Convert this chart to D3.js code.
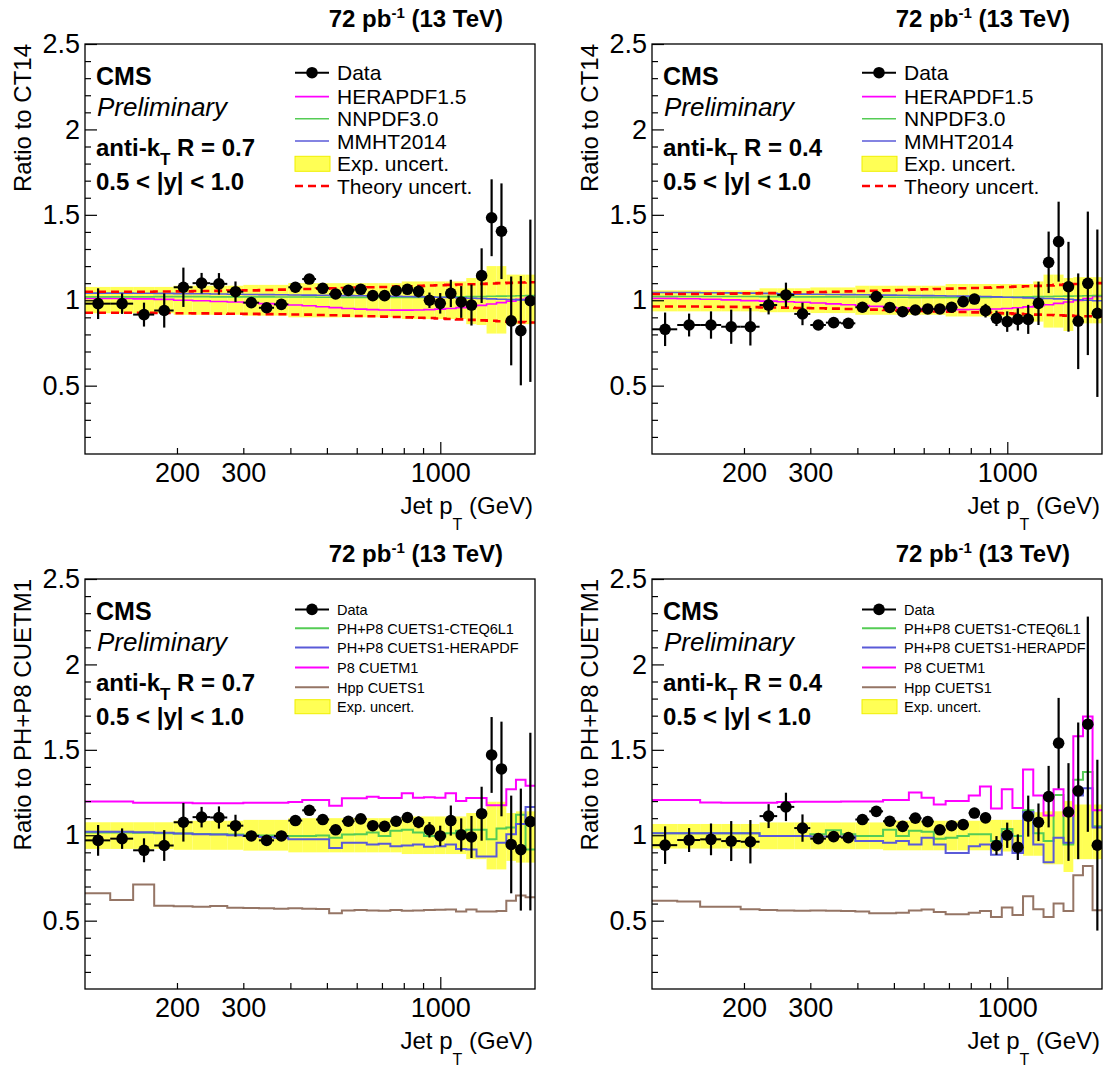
<!DOCTYPE html>
<html><head><meta charset="utf-8">
<script src="https://cdn.jsdelivr.net/npm/d3@7"></script>
<style>
body{margin:0;background:#fff}
svg{display:block}
text{font-family:"Liberation Sans",Arial,Helvetica,sans-serif;fill:#000}
</style>
</head><body>
<svg id="c" width="1109" height="1070"></svg>
<script>
// ---------------- DATA ----------------
const ptEdges = [114,133,153,174,196,220,245,272,300,330,362,395,430,468,507,548,592,638,686,737,790,846,905,967,1032,1101,1172,1248,1327,1410,1497,1588,1684,1784];
const yMajorTicks = [0.5,1,1.5,2,2.5];
const yMinorTicks = [0.2,0.3,0.4,0.6,0.7,0.8,0.9,1.1,1.2,1.3,1.4,1.6,1.7,1.8,1.9,2.1,2.2,2.3,2.4];
const xTicks = [200,300,400,500,600,700,800,900,1000];
const xTickLabels = [200,300,1000];
const yRange = [0.1,2.5];

// Panel 1: R=0.7, ratio to CT14
const r07ct14Data = [0.98,0.98,0.916,0.94,1.076,1.10,1.096,1.05,0.986,0.956,0.976,1.076,1.124,1.07,1.037,1.058,1.064,1.027,1.027,1.056,1.064,1.052,1.0,0.982,1.04,0.99,0.972,1.144,1.483,1.404,0.879,0.822,0.997];
const r07ct14Err  = [0.09,0.06,0.07,0.1,0.115,0.06,0.063,0.06,0.02,0.02,0.02,0.03,0.02,0.02,0.02,0.02,0.02,0.02,0.02,0.02,0.025,0.035,0.045,0.06,0.08,0.093,0.12,0.16,0.225,0.28,0.26,0.32,0.475];
const r07ct14BandHi = [1.078,1.078,1.078,1.078,1.085,1.085,1.085,1.085,1.09,1.09,1.09,1.1,1.1,1.1,1.1,1.1,1.1,1.1,1.1,1.1,1.11,1.11,1.11,1.11,1.11,1.11,1.13,1.158,1.2,1.2,1.15,1.15,1.15];
const r07ct14BandLo = [0.924,0.924,0.924,0.924,0.915,0.915,0.915,0.915,0.91,0.91,0.91,0.9,0.9,0.9,0.9,0.9,0.9,0.9,0.9,0.9,0.89,0.89,0.89,0.89,0.89,0.89,0.86,0.855,0.805,0.805,0.86,0.86,0.86];
const r07ct14TheoryHi = [1.05,1.05,1.05,1.051,1.052,1.054,1.055,1.057,1.058,1.06,1.062,1.064,1.066,1.068,1.07,1.072,1.074,1.076,1.078,1.08,1.082,1.084,1.086,1.088,1.09,1.092,1.094,1.096,1.098,1.1,1.102,1.104,1.105];
const r07ct14TheoryLo = [0.927,0.927,0.926,0.925,0.924,0.923,0.922,0.921,0.92,0.919,0.918,0.917,0.916,0.914,0.912,0.91,0.908,0.906,0.904,0.902,0.9,0.898,0.896,0.893,0.89,0.888,0.885,0.882,0.88,0.877,0.874,0.872,0.87];
const r07ct14Hera = [1.011,1.01,1.008,1.005,1.0,0.997,0.993,0.99,0.985,0.98,0.975,0.972,0.968,0.962,0.957,0.952,0.948,0.945,0.943,0.942,0.942,0.943,0.945,0.948,0.952,0.957,0.963,0.97,0.978,0.986,0.995,1.005,1.016];
const r07ct14Nnpdf = [1.02,1.02,1.02,1.021,1.021,1.021,1.02,1.02,1.02,1.02,1.019,1.019,1.019,1.018,1.018,1.017,1.017,1.017,1.017,1.017,1.017,1.017,1.018,1.018,1.019,1.02,1.021,1.022,1.023,1.024,1.025,1.026,1.027];
const r07ct14Mmht = [1.042,1.042,1.041,1.04,1.039,1.038,1.037,1.035,1.034,1.033,1.032,1.031,1.03,1.029,1.028,1.027,1.026,1.025,1.024,1.023,1.022,1.021,1.02,1.018,1.016,1.014,1.012,1.01,1.008,1.006,1.004,1.002,1.0];

// Panel 2: R=0.4, ratio to CT14
const r04ct14Data = [0.83,0.855,0.855,0.845,0.845,0.972,1.031,0.92,0.855,0.869,0.865,0.959,1.021,0.958,0.933,0.943,0.949,0.949,0.959,0.992,1.007,0.939,0.894,0.875,0.888,0.888,0.982,1.222,1.343,1.079,0.877,1.099,0.924];
const r04ct14Err  = [0.098,0.067,0.08,0.1,0.11,0.055,0.072,0.066,0.02,0.02,0.02,0.03,0.03,0.02,0.02,0.02,0.02,0.02,0.02,0.02,0.03,0.04,0.045,0.06,0.065,0.085,0.127,0.18,0.234,0.263,0.28,0.42,0.49];
const r04ct14BandHi = [1.058,1.058,1.058,1.058,1.058,1.07,1.07,1.07,1.075,1.075,1.075,1.085,1.085,1.085,1.085,1.085,1.085,1.085,1.095,1.095,1.095,1.095,1.095,1.095,1.095,1.095,1.11,1.15,1.15,1.13,1.135,1.135,1.135];
const r04ct14BandLo = [0.935,0.935,0.935,0.935,0.935,0.93,0.93,0.93,0.925,0.925,0.925,0.915,0.915,0.915,0.915,0.915,0.915,0.915,0.905,0.905,0.905,0.905,0.905,0.905,0.905,0.905,0.875,0.84,0.84,0.82,0.865,0.865,0.865];
const r04ct14TheoryHi = [1.037,1.037,1.038,1.039,1.04,1.042,1.044,1.046,1.048,1.05,1.052,1.054,1.056,1.058,1.06,1.062,1.064,1.066,1.068,1.07,1.072,1.074,1.076,1.078,1.08,1.082,1.084,1.087,1.09,1.093,1.095,1.098,1.1];
const r04ct14TheoryLo = [0.963,0.963,0.962,0.961,0.96,0.958,0.957,0.955,0.953,0.951,0.949,0.947,0.945,0.943,0.941,0.939,0.937,0.935,0.933,0.931,0.929,0.927,0.925,0.923,0.92,0.918,0.916,0.914,0.912,0.91,0.908,0.906,0.904];
const r04ct14Hera = [1.011,1.009,1.006,1.002,0.998,0.995,0.991,0.988,0.984,0.979,0.974,0.969,0.964,0.959,0.955,0.951,0.948,0.946,0.945,0.945,0.946,0.947,0.949,0.952,0.956,0.961,0.967,0.974,0.982,0.99,0.999,1.01,1.022];
const r04ct14Nnpdf = [1.022,1.022,1.022,1.022,1.022,1.021,1.021,1.02,1.02,1.02,1.019,1.019,1.019,1.018,1.018,1.017,1.017,1.017,1.017,1.017,1.017,1.017,1.018,1.018,1.019,1.02,1.021,1.022,1.023,1.024,1.025,1.026,1.027];
const r04ct14Mmht = [1.045,1.045,1.044,1.043,1.042,1.04,1.038,1.036,1.035,1.034,1.033,1.032,1.031,1.03,1.029,1.028,1.027,1.026,1.025,1.024,1.023,1.022,1.02,1.018,1.016,1.014,1.012,1.01,1.008,1.006,1.003,1.0,0.997];

// Panel 3: R=0.7, ratio to PH+P8 CUETM1
const r07mcData = [0.97,0.98,0.912,0.94,1.076,1.106,1.104,1.056,0.996,0.97,0.996,1.086,1.146,1.092,1.032,1.082,1.096,1.056,1.052,1.082,1.104,1.076,1.032,0.996,1.086,1.002,0.99,1.126,1.47,1.388,0.946,0.916,1.08];
const r07mcErr  = [0.09,0.06,0.07,0.09,0.113,0.06,0.065,0.064,0.02,0.02,0.02,0.025,0.02,0.02,0.02,0.02,0.02,0.02,0.02,0.02,0.025,0.035,0.045,0.06,0.088,0.097,0.123,0.158,0.222,0.277,0.286,0.357,0.52];
const r07mcBandHi = [1.076,1.076,1.076,1.076,1.085,1.085,1.085,1.085,1.09,1.09,1.09,1.1,1.1,1.1,1.1,1.1,1.1,1.1,1.1,1.1,1.11,1.11,1.11,1.11,1.11,1.11,1.13,1.13,1.196,1.196,1.13,1.14,1.14];
const r07mcBandLo = [0.92,0.92,0.92,0.92,0.915,0.915,0.915,0.915,0.91,0.91,0.91,0.9,0.9,0.9,0.9,0.9,0.9,0.9,0.9,0.9,0.89,0.89,0.89,0.89,0.89,0.89,0.86,0.86,0.8,0.8,0.85,0.84,0.84];
const r07mcP8 = [1.198,1.198,1.19,1.19,1.19,1.188,1.188,1.188,1.19,1.19,1.19,1.195,1.206,1.206,1.172,1.216,1.216,1.226,1.218,1.218,1.246,1.22,1.222,1.22,1.246,1.2,1.218,1.218,1.175,1.175,1.27,1.325,1.29];
const r07mcCteq = [1.016,1.016,1.014,1.012,1.01,1.008,1.006,1.004,1.0,0.998,0.996,0.996,0.996,0.998,0.986,1.004,1.006,1.016,0.996,1.026,1.032,1.016,0.996,0.992,1.012,1.026,1.032,1.032,0.976,1.04,1.046,1.12,0.916];
const r07mcHera = [1.02,1.02,1.018,1.014,1.01,1.006,1.004,1.0,0.996,0.99,0.986,0.976,0.976,0.976,0.926,0.956,0.956,0.946,0.95,0.936,0.94,0.946,0.932,0.936,0.946,0.92,0.916,0.876,0.876,0.956,1.006,1.066,1.166];
const r07mcHpp = [0.661,0.621,0.711,0.588,0.584,0.582,0.586,0.576,0.574,0.572,0.57,0.572,0.57,0.568,0.543,0.56,0.562,0.56,0.558,0.562,0.558,0.56,0.562,0.564,0.566,0.554,0.566,0.554,0.554,0.556,0.617,0.647,0.637];

// Panel 4: R=0.4, ratio to PH+P8 CUETM1
const r04mcData = [0.942,0.972,0.976,0.966,0.962,1.112,1.166,1.042,0.98,0.992,0.986,1.092,1.14,1.082,1.052,1.1,1.08,1.032,1.056,1.062,1.13,1.102,0.94,1.0,0.93,1.112,1.076,1.226,1.539,1.136,1.26,1.65,0.942];
const r04mcErr  = [0.11,0.07,0.093,0.117,0.127,0.07,0.083,0.08,0.02,0.02,0.02,0.03,0.03,0.02,0.02,0.02,0.02,0.02,0.02,0.02,0.03,0.03,0.055,0.074,0.075,0.12,0.11,0.18,0.265,0.286,0.4,0.63,0.5];
const r04mcBandHi = [1.066,1.066,1.066,1.066,1.066,1.075,1.075,1.075,1.075,1.075,1.075,1.075,1.075,1.085,1.085,1.085,1.085,1.085,1.085,1.085,1.085,1.085,1.09,1.09,1.09,1.135,1.135,1.14,1.14,1.2,1.18,1.18,1.18];
const r04mcBandLo = [0.922,0.922,0.922,0.922,0.922,0.918,0.918,0.918,0.918,0.918,0.918,0.918,0.918,0.912,0.912,0.912,0.912,0.912,0.912,0.912,0.912,0.912,0.905,0.905,0.905,0.88,0.88,0.83,0.83,0.785,0.86,0.86,0.86];
const r04mcP8 = [1.206,1.206,1.192,1.19,1.19,1.19,1.195,1.196,1.196,1.196,1.198,1.198,1.198,1.206,1.206,1.25,1.22,1.18,1.2,1.2,1.232,1.285,1.156,1.27,1.16,1.385,1.232,1.116,1.27,1.116,1.58,1.695,1.146];
const r04mcCteq = [1.012,1.012,1.012,1.012,1.012,0.996,0.996,0.996,1.006,1.03,1.006,0.996,0.996,1.032,0.996,1.026,1.02,0.98,0.986,0.996,1.006,1.006,0.966,1.036,0.996,1.146,1.012,0.966,1.236,0.946,1.325,1.37,1.052];
const r04mcHera = [1.012,1.012,1.012,1.012,1.012,0.996,0.996,0.996,0.992,0.992,0.992,0.966,0.966,0.956,0.966,0.946,0.986,0.946,0.896,0.896,0.936,0.946,0.886,1.006,0.896,1.136,0.946,0.842,0.986,0.956,1.232,1.275,1.046];
const r04mcHpp = [0.617,0.612,0.581,0.581,0.567,0.563,0.56,0.558,0.56,0.558,0.556,0.553,0.543,0.543,0.547,0.56,0.565,0.551,0.537,0.537,0.547,0.557,0.521,0.577,0.533,0.643,0.567,0.521,0.6,0.557,0.766,0.82,0.561];

const ct14LegendLabels = ["Data","HERAPDF1.5","NNPDF3.0","MMHT2014","Exp. uncert.","Theory uncert."];
const mcLegendLabels = ["Data","PH+P8 CUETS1-CTEQ6L1","PH+P8 CUETS1-HERAPDF","P8 CUETM1","Hpp CUETS1","Exp. uncert."];

// ---------------- STYLE ----------------
const C = {magenta:"#ff00ff", green:"#55cc55", blue:"#5a5ad8", brown:"#957565", red:"#ff0000", band:"#ffff55"};
const F = "'Liberation Sans',Arial,Helvetica,sans-serif";

const panels = [
  {ox:0, oy:0, type:'ct14', R:'0.7', ytitle:'Ratio to CT14', data:r07ct14Data, err:r07ct14Err, bandHi:r07ct14BandHi, bandLo:r07ct14BandLo,
   theory:[r07ct14TheoryHi, r07ct14TheoryLo], lines:[[r07ct14Hera,C.magenta],[r07ct14Nnpdf,C.green],[r07ct14Mmht,C.blue]]},
  {ox:567, oy:0, type:'ct14', R:'0.4', ytitle:'Ratio to CT14', data:r04ct14Data, err:r04ct14Err, bandHi:r04ct14BandHi, bandLo:r04ct14BandLo,
   theory:[r04ct14TheoryHi, r04ct14TheoryLo], lines:[[r04ct14Hera,C.magenta],[r04ct14Nnpdf,C.green],[r04ct14Mmht,C.blue]]},
  {ox:0, oy:535, type:'mc', R:'0.7', ytitle:'Ratio to PH+P8 CUETM1', data:r07mcData, err:r07mcErr, bandHi:r07mcBandHi, bandLo:r07mcBandLo,
   theory:null, lines:[[r07mcHpp,C.brown],[r07mcCteq,C.green],[r07mcHera,C.blue],[r07mcP8,C.magenta]]},
  {ox:567, oy:535, type:'mc', R:'0.4', ytitle:'Ratio to PH+P8 CUETM1', data:r04mcData, err:r04mcErr, bandHi:r04mcBandHi, bandLo:r04mcBandLo,
   theory:null, lines:[[r04mcHpp,C.brown],[r04mcCteq,C.green],[r04mcHera,C.blue],[r04mcP8,C.magenta]]}
];

const svg = d3.select('#c');
svg.append('rect').attr('width',1109).attr('height',1070).attr('fill','#fff');

const FL=85, FR=535, FT=44, FB=454;

panels.forEach((p,pi)=>{
  const g = svg.append('g').attr('transform',`translate(${p.ox},${p.oy})`);
  const x = d3.scaleLog().domain([ptEdges[0], ptEdges[ptEdges.length-1]]).range([FL,FR]);
  const y = d3.scaleLinear().domain(yRange).range([FB,FT]);
  const clipId = 'clip'+pi;
  g.append('clipPath').attr('id',clipId).append('rect').attr('x',FL).attr('y',FT).attr('width',FR-FL).attr('height',FB-FT);
  const plot = g.append('g').attr('clip-path',`url(#${clipId})`);

  const bins = p.data.map((v,i)=>({lo:ptEdges[i], hi:ptEdges[i+1], c:(ptEdges[i]+ptEdges[i+1])/2, v, e:p.err[i], bh:p.bandHi[i], bl:p.bandLo[i]}));

  // exp uncertainty band
  plot.append('g').selectAll('rect').data(bins).join('rect')
    .attr('x',d=>x(d.lo)).attr('width',d=>x(d.hi)-x(d.lo))
    .attr('y',d=>y(d.bh)).attr('height',d=>y(d.bl)-y(d.bh))
    .attr('fill',C.band);

  const stepPath = vals => d3.line().curve(d3.curveStepAfter).x(d=>x(d[0])).y(d=>y(d[1]))(
      ptEdges.map((e,i)=>[e, vals[Math.min(i, vals.length-1)]]));

  const lw = p.type==='ct14' ? 1.6 : 2;
  p.lines.forEach(([vals,col])=>{
    plot.append('path').attr('d',stepPath(vals)).attr('fill','none').attr('stroke',col).attr('stroke-width',lw);
  });
  if(p.theory){
    p.theory.forEach(vals=>{
      plot.append('path').attr('d',stepPath(vals)).attr('fill','none').attr('stroke',C.red)
        .attr('stroke-width',2.6).attr('stroke-dasharray','8,5');
    });
  }

  // data
  const dg = plot.append('g');
  dg.selectAll('line.h').data(bins).join('line')
    .attr('x1',d=>x(d.lo)).attr('x2',d=>x(d.hi)).attr('y1',d=>y(d.v)).attr('y2',d=>y(d.v))
    .attr('stroke','#000').attr('stroke-width',2);
  dg.selectAll('line.v').data(bins).join('line')
    .attr('x1',d=>x(d.c)).attr('x2',d=>x(d.c)).attr('y1',d=>y(d.v-d.e)).attr('y2',d=>y(d.v+d.e))
    .attr('stroke','#000').attr('stroke-width',2.2);
  dg.selectAll('circle').data(bins).join('circle')
    .attr('cx',d=>x(d.c)).attr('cy',d=>y(d.v)).attr('r',5.8).attr('fill','#000');

  // frame
  g.append('rect').attr('x',FL).attr('y',FT).attr('width',FR-FL).attr('height',FB-FT)
    .attr('fill','none').attr('stroke','#000').attr('stroke-width',1.3);

  // y axis
  const yAx = g.append('g').attr('transform',`translate(${FL},0)`)
    .call(d3.axisLeft(y).tickValues(yMajorTicks).tickSize(-12).tickPadding(5).tickFormat(d3.format('')));
  yAx.select('.domain').remove();
  yAx.selectAll('text').attr('font-size',27).attr('font-family',F).attr('fill','#000');
  yAx.selectAll('line').attr('stroke','#000').attr('stroke-width',1.2);
  const yMin = g.append('g').attr('transform',`translate(${FL},0)`)
    .call(d3.axisLeft(y).tickValues(yMinorTicks).tickSize(-6).tickFormat(''));
  yMin.select('.domain').remove();
  yMin.selectAll('line').attr('stroke','#000').attr('stroke-width',1.2);

  // x axis
  const xAx = g.append('g').attr('transform',`translate(0,${FB})`)
    .call(d3.axisBottom(x).tickValues(xTicks).tickSize(-6).tickPadding(9)
      .tickFormat(d=>xTickLabels.includes(d)?String(d):''));
  xAx.select('.domain').remove();
  xAx.selectAll('line').attr('stroke','#000').attr('stroke-width',1.2).filter(d=>d===1000).attr('y2',-12);
  xAx.selectAll('text').attr('font-size',27).attr('font-family',F).attr('fill','#000');

  // axis titles
  const xt = g.append('text').attr('x',533).attr('y',514).attr('text-anchor','end').attr('font-size',24);
  xt.append('tspan').text('Jet p');
  xt.append('tspan').attr('font-size',16).attr('dy',16).text('T');
  xt.append('tspan').attr('dy',-16).text(' (GeV)');
  g.append('text').attr('transform',`translate(30.5,${FT}) rotate(-90)`).attr('text-anchor','end')
    .attr('font-size',24).text(p.ytitle);

  // header
  const tt = g.append('text').attr('x',503).attr('y',27).attr('text-anchor','end').attr('font-size',24).attr('font-weight','bold');
  tt.append('tspan').text('72 pb');
  tt.append('tspan').attr('font-size',15).attr('dy',-9).text('-1');
  tt.append('tspan').attr('dy',9).text(' (13 TeV)');

  g.append('text').attr('x',96).attr('y',85).attr('font-size',25).attr('font-weight','bold').text('CMS');
  g.append('text').attr('x',97).attr('y',116).attr('font-size',26).attr('font-style','italic').text('Preliminary');
  const ak = g.append('text').attr('x',96).attr('y',156).attr('font-size',24).attr('font-weight','bold');
  ak.append('tspan').text('anti-k');
  ak.append('tspan').attr('font-size',17).attr('dy',9).text('T');
  ak.append('tspan').attr('dy',-9).text(' R = '+p.R);
  g.append('text').attr('x',96).attr('y',190).attr('font-size',24).attr('font-weight','bold').text('0.5 < |y| < 1.0');

  // legend
  const lg = g.append('g');
  const sx1=295, sx2=329, tx=337;
  if(p.type==='ct14'){
    const ys=[72.7,96.6,118.8,141,163.8,186];
    const fs=21;
    ct14LegendLabels.forEach((lab,i)=>{
      lg.append('text').attr('x',tx).attr('y',ys[i]+7.6).attr('font-size',fs).text(lab);
    });
    lg.append('line').attr('x1',sx1).attr('x2',sx2).attr('y1',ys[0]).attr('y2',ys[0]).attr('stroke','#000').attr('stroke-width',2);
    lg.append('circle').attr('cx',(sx1+sx2)/2).attr('cy',ys[0]).attr('r',5.8).attr('fill','#000');
    [C.magenta,C.green,C.blue].forEach((col,i)=>{
      lg.append('line').attr('x1',sx1).attr('x2',sx2).attr('y1',ys[i+1]).attr('y2',ys[i+1]).attr('stroke',col).attr('stroke-width',1.6);
    });
    lg.append('rect').attr('x',sx1).attr('y',ys[4]-7.5).attr('width',sx2-sx1+1).attr('height',15).attr('fill',C.band).attr('stroke','#f0f000').attr('stroke-width',1);
    lg.append('line').attr('x1',sx1).attr('x2',sx2).attr('y1',ys[5]).attr('y2',ys[5]).attr('stroke',C.red).attr('stroke-width',2.6).attr('stroke-dasharray','8,5');
  } else {
    const ys=[74.4,93.2,112.6,132.4,152.2,171.7];
    const fs=14.5;
    mcLegendLabels.forEach((lab,i)=>{
      lg.append('text').attr('x',tx).attr('y',ys[i]+5.3).attr('font-size',fs).text(lab);
    });
    lg.append('line').attr('x1',sx1).attr('x2',sx2).attr('y1',ys[0]).attr('y2',ys[0]).attr('stroke','#000').attr('stroke-width',2);
    lg.append('circle').attr('cx',(sx1+sx2)/2).attr('cy',ys[0]).attr('r',5.8).attr('fill','#000');
    [C.green,C.blue,C.magenta,C.brown].forEach((col,i)=>{
      lg.append('line').attr('x1',sx1).attr('x2',sx2).attr('y1',ys[i+1]).attr('y2',ys[i+1]).attr('stroke',col).attr('stroke-width',2);
    });
    lg.append('rect').attr('x',sx1).attr('y',ys[5]-7).attr('width',sx2-sx1+1).attr('height',14).attr('fill',C.band).attr('stroke','#f0f000').attr('stroke-width',1);
  }
});
</script>
</body></html>
